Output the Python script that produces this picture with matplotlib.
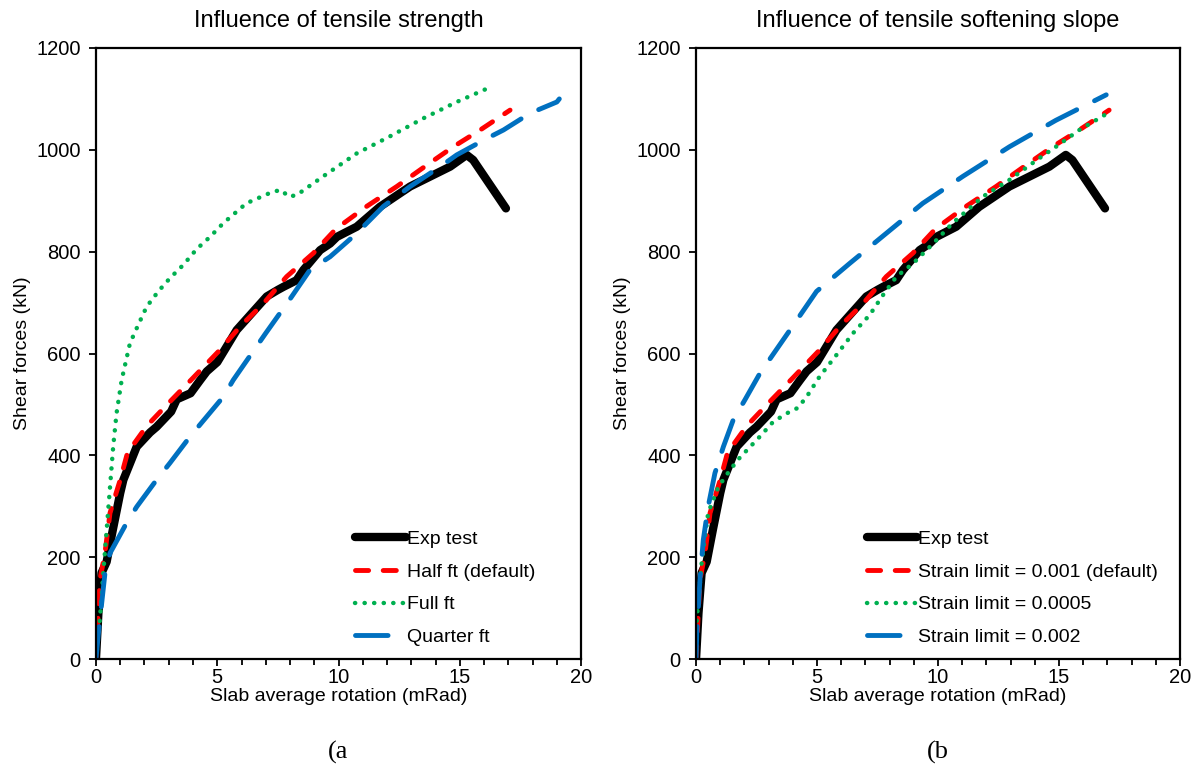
import matplotlib
matplotlib.use("Agg")
import matplotlib.pyplot as plt
from matplotlib.ticker import MultipleLocator

plt.rcParams['font.family'] = ['Liberation Sans', 'DejaVu Sans']

# experimental curve (same in both panels)
exp_x = [0, 0.1, 0.23, 0.44, 0.7, 1.0, 1.13, 1.68, 2.23, 2.5, 3.1, 3.33, 3.9, 4.3, 4.57,
         5.0, 5.8, 7.04, 7.5, 7.73, 8.27, 8.55, 9.24, 9.65, 9.93, 10.75, 11.7, 12.95,
         14.6, 15.28, 15.55, 16.9]
exp_y = [0, 90, 169, 191, 255, 326, 352, 417, 445, 456, 486, 510, 522, 548, 565,
         583, 646, 712, 725, 731, 744, 764, 803, 816, 829, 849, 888, 928,
         967, 990, 980, 885]

# default model: half ft / strain limit 0.001
half_x = [0, 0.16, 0.37, 0.58, 1.0, 1.3, 2.1, 3.0, 4.0, 5.11, 5.94, 6.9, 7.86, 8.96,
          9.9, 11.16, 12.4, 13.64, 14.73, 15.84, 17.07]
half_y = [0, 155, 208, 287, 352, 405, 458, 503, 552, 607, 653, 698, 751, 797,
          845, 889, 928, 970, 1006, 1039, 1078]

full_x = [0, 0.16, 0.3, 0.44, 0.58, 0.71, 0.85, 1.06, 1.4, 1.74, 2.09, 2.57, 3.05,
          3.6, 4.15, 4.7, 5.25, 6.2, 7.3, 7.65, 7.93, 8.27, 9.37, 10.75, 12.1, 13.5,
          14.87, 16.3]
full_y = [0, 77, 168, 253, 338, 417, 483, 548, 620, 656, 692, 722, 748,
          774, 805, 829, 856, 895, 918, 921, 908, 911, 948, 993, 1026, 1062,
          1094, 1124]

quarter_x = [0, 0.1, 0.37, 0.58, 1.26, 1.68, 2.5, 3.05, 3.88, 5.25, 5.66, 7.0, 8.0,
             8.82, 9.65, 10.75, 11.85, 12.95, 14.19, 14.87, 16.1, 16.8, 17.9, 19.0, 19.1]
quarter_y = [0, 50, 168, 208, 267, 299, 352, 385, 437, 515, 548, 640, 707,
             764, 790, 836, 889, 928, 967, 990, 1022, 1039, 1072, 1094, 1100]

sl0005_x = [0, 0.03, 0.23, 0.5, 0.92, 1.4, 1.8, 2.64, 3.19, 3.88, 4.2, 4.57, 5.11,
            5.8, 6.49, 7.18, 7.73, 8.28, 8.97, 9.8, 10.6, 11.85, 12.95, 14.2, 14.87,
            15.84, 16.87]
sl0005_y = [0, 77, 188, 287, 338, 371, 395, 437, 466, 486, 493, 515, 555,
            597, 640, 676, 715, 751, 777, 816, 856, 908, 941, 984, 1006,
            1039, 1068]

sl002_x = [0, 0.03, 0.16, 0.3, 0.5, 0.78, 1.13, 1.54, 2.02, 2.64, 3.88, 4.98, 6.35,
           7.86, 9.37, 11.03, 12.95, 14.87, 16.95]
sl002_y = [0, 50, 155, 234, 299, 365, 417, 470, 509, 561, 646, 722, 777,
           836, 895, 948, 1006, 1058, 1108]

titles = ["Influence of tensile strength", "Influence of tensile softening slope"]
captions = ["(a", "(b"]

# line styles
black = dict(color='black', lw=6, solid_capstyle='round', solid_joinstyle='round')
red = dict(color='#ff0000', lw=3.5, linestyle=(0, (2.7, 3.0)), dash_capstyle='round')
green = dict(color='#00b050', lw=3.2, linestyle=(0, (0.05, 2.1)), dash_capstyle='round')
blue = dict(color='#0070c0', lw=3.5, linestyle=(0, (6.7, 4.1)), dash_capstyle='round')

fig = plt.figure(figsize=(11.98, 7.69), dpi=100)
ax1 = fig.add_axes([0.0801, 0.143, 0.405, 0.7946])
ax2 = fig.add_axes([0.581, 0.143, 0.404, 0.7946])

ax1.plot(exp_x, exp_y, label="Exp test", **black)
ax1.plot(half_x, half_y, label="Half ft (default)", **red)
ax1.plot(full_x, full_y, label="Full ft", **green)
ax1.plot(quarter_x, quarter_y, label="Quarter ft", **blue)

ax2.plot(exp_x, exp_y, label="Exp test", **black)
ax2.plot(half_x, half_y, label="Strain limit = 0.001 (default)", **red)
ax2.plot(sl0005_x, sl0005_y, label="Strain limit = 0.0005", **green)
ax2.plot(sl002_x, sl002_y, label="Strain limit = 0.002", **blue)

leg_x = [0.534, 0.353]
cap_x = [338 / 1198, 938 / 1198]

for ax, t, c, lx, cx in zip([ax1, ax2], titles, captions, leg_x, cap_x):
    ax.set_xlim(0, 20)
    ax.set_ylim(0, 1200)
    ax.xaxis.set_major_locator(MultipleLocator(5))
    ax.xaxis.set_minor_locator(MultipleLocator(1))
    ax.yaxis.set_major_locator(MultipleLocator(200))
    ax.tick_params(which='major', direction='out', length=5, width=1.3, labelsize=14.5, pad=1.5)
    ax.tick_params(axis='y', which='major', pad=6)
    ax.tick_params(which='minor', direction='out', length=4, width=1.3)
    for s in ax.spines.values():
        s.set_linewidth(1.6)
    ax.set_title(t, fontsize=17, pad=15)
    ax.set_xlabel("Slab average rotation (mRad)", fontsize=14, labelpad=0.5)
    ax.set_ylabel("Shear forces (kN)", fontsize=14, labelpad=4)
    ax.legend(loc='lower left', bbox_to_anchor=(lx, 0.021), frameon=False, fontsize=14,
              handlelength=2.6, handletextpad=0.05, labelspacing=0.78,
              borderaxespad=0, borderpad=0)
    fig.text(cx, 0.022, c, ha='center', va='center', fontsize=19,
             family='Liberation Serif')

fig.savefig("out.png", dpi=100)
